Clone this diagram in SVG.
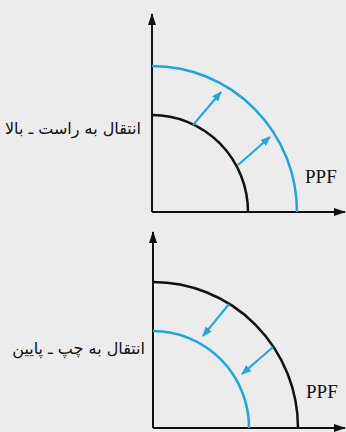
<svg xmlns="http://www.w3.org/2000/svg" width="346" height="432" viewBox="0 0 346 432">
<style>
.axis{stroke:#111;stroke-width:2;fill:none}
.curve{fill:none;stroke-width:2.5}
.blk{stroke:#111}
.blu{stroke:#1aa7e6}
.shift{stroke:#1aa7e6;stroke-width:2;fill:none}
.lbl{font-family:"DejaVu Sans",sans-serif;font-size:16px;fill:#111}
.ppf{font-family:"Liberation Serif",serif;font-size:19px;fill:#111}
</style>
<defs>
<marker id="ax" viewBox="0 0 12 8" refX="11" refY="4" markerWidth="12" markerHeight="8" markerUnits="userSpaceOnUse" orient="auto"><path d="M0,0 L12,4 L0,8 z" fill="#111"/></marker>
<marker id="ar" viewBox="0 0 10 10" refX="9" refY="5" markerWidth="10" markerHeight="10" markerUnits="userSpaceOnUse" orient="auto"><path d="M0,1 L10,5 L0,9 z" fill="#1aa7e6"/></marker>
</defs>
<rect width="346" height="432" fill="#ececec"/>
<g id="top-chart">
<g id="top-axes">
<path class="axis" d="M152,212 V14" marker-end="url(#ax)"/>
<path class="axis" d="M152,212 H345" marker-end="url(#ax)"/>
</g>
<g id="top-ppf-old"><path class="curve blk" d="M152,115 A96,97 0 0 1 248,212"/></g>
<g id="top-ppf-new"><path class="curve blu" d="M152,66 A145,146 0 0 1 297,212"/></g>
<g id="top-connectors">
<path class="shift" d="M193,125 L221,92" marker-end="url(#ar)"/>
<path class="shift" d="M238,165 L270,137" marker-end="url(#ar)"/>
</g>
<g id="top-label"><text class="lbl" x="141" y="134" text-anchor="end">انتقال به راست ـ بالا</text></g>
<g id="top-ppf-label"><text class="ppf" x="305" y="183">PPF</text></g>
</g>
<g id="bottom-chart">
<g id="bottom-axes">
<path class="axis" d="M153,428 V232" marker-end="url(#ax)"/>
<path class="axis" d="M153,428 H345" marker-end="url(#ax)"/>
</g>
<g id="bottom-ppf-old"><path class="curve blk" d="M153,282 A145,146 0 0 1 298,428"/></g>
<g id="bottom-ppf-new"><path class="curve blu" d="M153,331 A96,97 0 0 1 249,428"/></g>
<g id="bottom-connectors">
<path class="shift" d="M229,304 L203,336" marker-end="url(#ar)"/>
<path class="shift" d="M273,347 L242,374" marker-end="url(#ar)"/>
</g>
<g id="bottom-label"><text class="lbl" x="145" y="354" text-anchor="end">انتقال به چپ ـ پایین</text></g>
<g id="bottom-ppf-label"><text class="ppf" x="306" y="398">PPF</text></g>
</g>
</svg>
